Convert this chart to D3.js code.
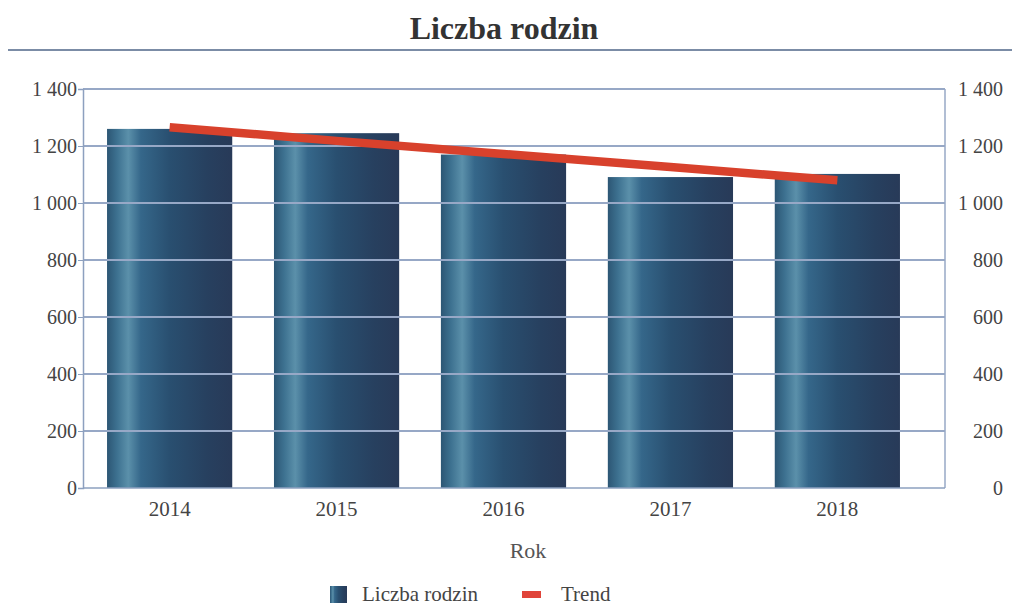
<!DOCTYPE html>
<html lang="pl">
<head>
<meta charset="UTF-8">
<title>Liczba rodzin</title>
<script src="https://d3js.org/d3.v7.min.js"></script>
<style>
body { margin: 0; background: #fff; }
svg text { font-family: "Liberation Serif", "DejaVu Serif", serif; fill: #3a3a3a; }
</style>
</head>
<body>
<div id="chart"></div>
<script>
// data
var years = ["2014", "2015", "2016", "2017", "2018"];
var families = [1260, 1245, 1170, 1091, 1102];
var trend = [1266, 1218, 1172, 1126, 1080];
var yTicks = [0, 200, 400, 600, 800, 1000, 1200, 1400];

var W = 1012, H = 607;
// plot box (note: "top" is taken by window.top, so use other names)
var plotL = 83, plotR = 945, plotT = 89, plotB = 488;

var svg = d3.select("#chart").append("svg")
  .attr("width", W)
  .attr("height", H);

// gradient for the "cylinder" bars
var defs = svg.append("defs");
var grad = defs.append("linearGradient")
  .attr("id", "barGrad")
  .attr("x1", "0%").attr("x2", "100%")
  .attr("y1", "0%").attr("y2", "0%");
[["0%", "#2c5674"], ["8%", "#3d7190"], ["17%", "#5b90aa"], ["27%", "#35678a"],
 ["50%", "#294f70"], ["80%", "#27405f"], ["100%", "#283a58"]].forEach(function(s) {
  grad.append("stop").attr("offset", s[0]).attr("stop-color", s[1]);
});

// title
svg.append("text")
  .attr("x", 504).attr("y", 39)
  .attr("text-anchor", "middle")
  .style("font-size", "32px")
  .style("font-weight", "bold")
  .style("fill", "#333")
  .text("Liczba rodzin");
svg.append("line")
  .attr("x1", 8).attr("x2", W)
  .attr("y1", 50).attr("y2", 50)
  .attr("stroke", "#7b8ca6")
  .attr("stroke-width", 2);

var x = d3.scaleBand()
  .domain(years)
  .range([plotL, 924])
  .paddingInner(0.25)
  .paddingOuter(0.144);

var y = d3.scaleLinear()
  .domain([0, 1400])
  .range([plotB, plotT]);

var fmt = function(d) { return d3.format(",")(d).replace(",", " "); };

// bars
svg.append("g")
  .selectAll("rect")
  .data(families)
  .enter().append("rect")
    .attr("x", function(d, i) { return x(years[i]); })
    .attr("y", function(d) { return y(d); })
    .attr("width", x.bandwidth())
    .attr("height", function(d) { return y(0) - y(d); })
    .attr("fill", "url(#barGrad)");

// gridlines on top of the bars
svg.append("g")
  .selectAll("line")
  .data(yTicks.slice(1))
  .enter().append("line")
    .attr("x1", plotL).attr("x2", plotR)
    .attr("y1", function(d) { return y(d); })
    .attr("y2", function(d) { return y(d); })
    .attr("stroke", "#97a8c6")
    .attr("stroke-width", 2);

// plot frame: right side
svg.append("line")
  .attr("x1", plotR).attr("x2", plotR)
  .attr("y1", plotT).attr("y2", plotB)
  .attr("stroke", "#97a8c6").attr("stroke-width", 1.5);

// left axis
var yAxisL = svg.append("g")
  .attr("transform", "translate(" + plotL + ",0)")
  .call(d3.axisLeft(y).tickValues(yTicks).tickSize(5).tickPadding(1).tickFormat(fmt));
yAxisL.select(".domain").attr("stroke", "#8da0bf").attr("stroke-width", 1.5);
yAxisL.selectAll(".tick line").attr("stroke", "#8da0bf");
yAxisL.selectAll("text").style("font-size", "20px").style("fill", "#444");

// right axis labels
var yAxisR = svg.append("g")
  .attr("transform", "translate(" + plotR + ",0)")
  .call(d3.axisRight(y).tickValues(yTicks).tickSize(0).tickPadding(12).tickFormat(fmt));
yAxisR.select(".domain").remove();
yAxisR.selectAll("text")
  .style("font-size", "20px").style("fill", "#444")
  .attr("text-anchor", "end")
  .attr("x", 58);

// bottom axis
var xAxis = svg.append("g")
  .attr("transform", "translate(0," + plotB + ")")
  .call(d3.axisBottom(x).tickSize(0).tickPadding(13));
xAxis.select(".domain").attr("d", "M" + plotL + ",0H" + plotR)
  .attr("stroke", "#8da0bf").attr("stroke-width", 1.5);
xAxis.selectAll("text").style("font-size", "21px").style("fill", "#444");

svg.append("text")
  .attr("x", 528).attr("y", 558)
  .attr("text-anchor", "middle")
  .style("font-size", "22px")
  .style("fill", "#555")
  .text("Rok");

// trend line
var line = d3.line()
  .x(function(d, i) { return x(years[i]) + x.bandwidth() / 2; })
  .y(function(d) { return y(d); });
svg.append("path")
  .datum(trend)
  .attr("d", line)
  .attr("fill", "none")
  .attr("stroke", "#d8412c")
  .attr("stroke-width", 8.5);

// legend
var leg = svg.append("g");
leg.append("rect")
  .attr("x", 330).attr("y", 586).attr("width", 17).attr("height", 17)
  .attr("fill", "url(#barGrad)");
leg.append("text")
  .attr("x", 362).attr("y", 601)
  .style("font-size", "21px").style("fill", "#444")
  .text("Liczba rodzin");
leg.append("rect")
  .attr("x", 522).attr("y", 591).attr("width", 19).attr("height", 7)
  .attr("fill", "#e0443a");
leg.append("text")
  .attr("x", 561).attr("y", 601)
  .style("font-size", "21px").style("fill", "#444")
  .text("Trend");
</script>
</body>
</html>
